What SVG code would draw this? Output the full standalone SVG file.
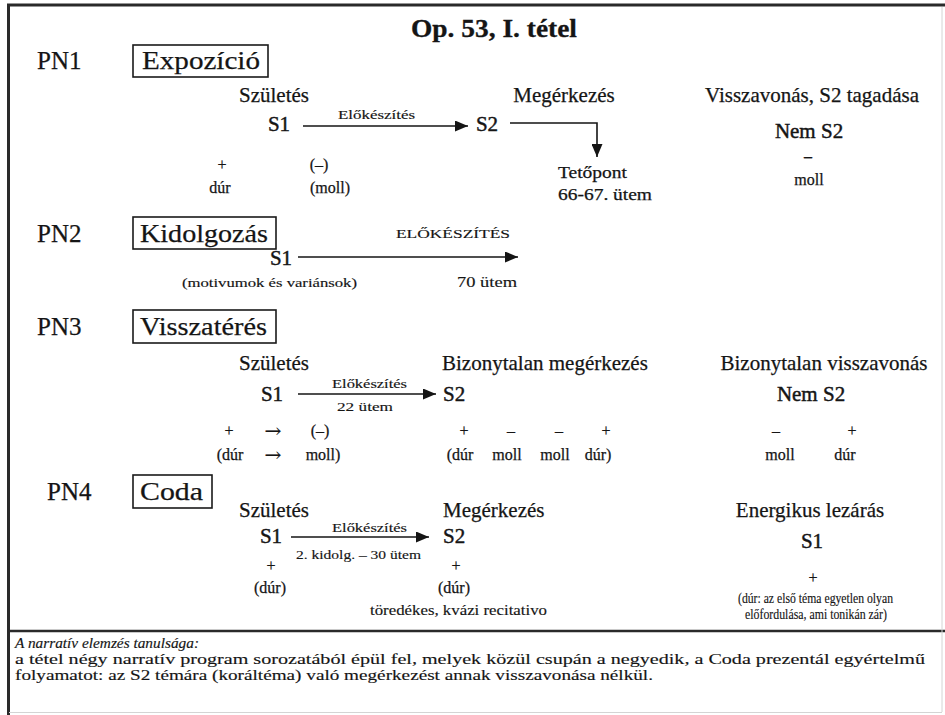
<svg xmlns="http://www.w3.org/2000/svg" width="945" height="715" viewBox="0 0 945 715" font-family="'Liberation Serif', 'DejaVu Serif', serif">
<defs>
<style>
text{font-family:"Liberation Serif","DejaVu Serif",serif;fill:#151515;stroke:#151515;stroke-width:0.25}
.ti{font-size:25px;font-weight:bold;stroke-width:0.3}
.pn{font-size:25px}
.bx{font-size:26px}
.hd{font-size:21px}
.s{font-size:21px;stroke-width:0.45}
.sm{font-size:13px;stroke-width:0.15}
.md{font-size:16px}
.ar{font-size:18px;font-family:"DejaVu Serif","Liberation Serif",serif;stroke-width:0.2}
.ft{font-size:15px;stroke-width:0.15}
.box{fill:none;stroke:#1a1a1a;stroke-width:1.6}
.ln{fill:none;stroke:#151515;stroke-width:1.6}
.fr{fill:none;stroke:#2a2a2a}
</style>
<marker id="ah" markerUnits="userSpaceOnUse" markerWidth="14" markerHeight="11" refX="13" refY="5.5" orient="auto">
<path d="M0,0 L13,5.5 L0,11 z" fill="#151515"/>
</marker>
</defs>
<rect width="945" height="715" fill="#fff"/>
<g id="frame">
<path class="fr" d="M7,5 H945" stroke-width="3.2"/>
<path class="fr" d="M8.5,4 V715" stroke-width="3"/>
<path class="fr" d="M8,631 H945" stroke-width="2.6"/>
<path d="M942,7 V712 M9,712.5 H942" stroke="#d4d4d4" stroke-width="1"/>
</g>
<g id="title"><text class="ti" x="411" y="37" textLength="166" lengthAdjust="spacingAndGlyphs">Op. 53, I. tétel</text></g>

<!-- PN1 -->
<g id="pn1-label"><text class="pn" x="37" y="69">PN1</text></g>
<g id="pn1-box"><rect class="box" x="133" y="45" width="135" height="32"/><text class="bx" x="142" y="69" textLength="118" lengthAdjust="spacingAndGlyphs">Expozíció</text></g>
<g id="pn1-s1">
<text class="hd" x="274" y="102" text-anchor="middle">Születés</text>
<text class="s" x="279" y="131" text-anchor="middle">S1</text>
<text class="md" x="222" y="170" text-anchor="middle">+</text>
<text class="md" x="220" y="193" text-anchor="middle">dúr</text>
<text class="md" x="319" y="170" text-anchor="middle">(–)</text>
<text class="md" x="330" y="193" text-anchor="middle">(moll)</text>
</g>
<g id="pn1-s2">
<text class="hd" x="564" y="102" text-anchor="middle">Megérkezés</text>
<text class="s" x="487" y="131" text-anchor="middle">S2</text>
</g>
<g id="pn1-tetopont">
<text class="md" x="558" y="178" textLength="69" lengthAdjust="spacingAndGlyphs">Tetőpont</text>
<text class="md" x="558" y="200" textLength="94" lengthAdjust="spacingAndGlyphs">66-67. ütem</text>
</g>
<g id="pn1-nems2">
<text class="hd" x="812" y="102" text-anchor="middle">Visszavonás, S2 tagadása</text>
<text class="s" x="809" y="138" text-anchor="middle" font-size="20">Nem S2</text>
<text class="md" x="808" y="162" text-anchor="middle" font-weight="bold">–</text>
<text class="md" x="809" y="185" text-anchor="middle">moll</text>
</g>

<!-- PN2 -->
<g id="pn2-label"><text class="pn" x="37" y="242">PN2</text></g>
<g id="pn2-box"><rect class="box" x="133" y="217" width="143" height="32"/><text class="bx" x="140" y="242" textLength="128" lengthAdjust="spacingAndGlyphs">Kidolgozás</text></g>
<g id="pn2-s1">
<text class="s" x="281" y="265" text-anchor="middle">S1</text>
<text class="sm" x="182" y="287" font-size="14" textLength="175" lengthAdjust="spacingAndGlyphs">(motivumok és variánsok)</text>
</g>
<g id="pn2-end">
<text class="sm" x="396" y="238" textLength="114" lengthAdjust="spacingAndGlyphs">ELŐKÉSZÍTÉS</text>
<text class="ft" x="457" y="287" textLength="60" lengthAdjust="spacingAndGlyphs">70 ütem</text>
</g>

<!-- PN3 -->
<g id="pn3-label"><text class="pn" x="37" y="335">PN3</text></g>
<g id="pn3-box"><rect class="box" x="133" y="310" width="143" height="33"/><text class="bx" x="140" y="335" textLength="127" lengthAdjust="spacingAndGlyphs">Visszatérés</text></g>
<g id="pn3-s1">
<text class="hd" x="274" y="370" text-anchor="middle">Születés</text>
<text class="s" x="272" y="401" text-anchor="middle">S1</text>
<text class="md" x="229" y="436" text-anchor="middle">+</text>
<text class="ar" x="273" y="437" text-anchor="middle" textLength="17" lengthAdjust="spacingAndGlyphs">→</text>
<text class="md" x="320" y="436" text-anchor="middle">(–)</text>
<text class="md" x="230" y="460" text-anchor="middle">(dúr</text>
<text class="ar" x="273" y="461" text-anchor="middle" textLength="17" lengthAdjust="spacingAndGlyphs">→</text>
<text class="md" x="323" y="460" text-anchor="middle">moll)</text>
</g>
<g id="pn3-s2">
<text class="hd" x="442" y="370">Bizonytalan megérkezés</text>
<text class="s" x="443" y="401">S2</text>
<text class="md" x="464" y="436" text-anchor="middle">+</text>
<text class="md" x="511" y="436" text-anchor="middle">–</text>
<text class="md" x="559" y="436" text-anchor="middle">–</text>
<text class="md" x="606" y="436" text-anchor="middle">+</text>
<text class="md" x="460" y="460" text-anchor="middle">(dúr</text>
<text class="md" x="507" y="460" text-anchor="middle">moll</text>
<text class="md" x="555" y="460" text-anchor="middle">moll</text>
<text class="md" x="598" y="460" text-anchor="middle">dúr)</text>
</g>
<g id="pn3-nems2">
<text class="hd" x="824" y="370" text-anchor="middle">Bizonytalan visszavonás</text>
<text class="s" x="811" y="401" text-anchor="middle" font-size="20">Nem S2</text>
<text class="md" x="776" y="436" text-anchor="middle">–</text>
<text class="md" x="852" y="436" text-anchor="middle">+</text>
<text class="md" x="780" y="460" text-anchor="middle">moll</text>
<text class="md" x="845" y="460" text-anchor="middle">dúr</text>
</g>

<!-- PN4 -->
<g id="pn4-label"><text class="pn" x="47" y="500">PN4</text></g>
<g id="pn4-box"><rect class="box" x="133" y="475" width="79" height="33"/><text class="bx" x="140" y="500" textLength="63" lengthAdjust="spacingAndGlyphs">Coda</text></g>
<g id="pn4-s1">
<text class="hd" x="274" y="517" text-anchor="middle">Születés</text>
<text class="s" x="271" y="543" text-anchor="middle">S1</text>
<text class="md" x="271" y="571" text-anchor="middle">+</text>
<text class="md" x="270" y="593" text-anchor="middle">(dúr)</text>
</g>
<g id="pn4-s2">
<text class="hd" x="443" y="517">Megérkezés</text>
<text class="s" x="443" y="543">S2</text>
<text class="md" x="456" y="571" text-anchor="middle">+</text>
<text class="md" x="454" y="593" text-anchor="middle">(dúr)</text>
<text class="ft" x="370" y="615" textLength="177" lengthAdjust="spacingAndGlyphs">töredékes, kvázi recitativo</text>
</g>
<g id="pn4-end">
<text class="hd" x="810" y="517" text-anchor="middle">Energikus lezárás</text>
<text class="s" x="812" y="548" text-anchor="middle">S1</text>
<text class="md" x="813" y="583" text-anchor="middle">+</text>
<text class="ft" x="738" y="603" font-size="14" textLength="155" lengthAdjust="spacingAndGlyphs">(dúr: az első téma egyetlen olyan</text>
<text class="ft" x="745" y="619" font-size="14" textLength="142" lengthAdjust="spacingAndGlyphs">előfordulása, ami tonikán zár)</text>
</g>

<!-- connectors -->
<g id="connectors">
<path class="ln" d="M303,126 H468" marker-end="url(#ah)"/>
<path class="ln" d="M510,123 H597 V157" marker-end="url(#ah)"/>
<path class="ln" d="M298,257 H518" marker-end="url(#ah)"/>
<path class="ln" d="M298,394 H436" marker-end="url(#ah)"/>
<path class="ln" d="M291,537 H429" marker-end="url(#ah)"/>
</g>
<g id="connector-labels">
<text class="sm" x="338" y="119" textLength="77" lengthAdjust="spacingAndGlyphs">Előkészítés</text>
<text class="sm" x="332" y="388" textLength="75" lengthAdjust="spacingAndGlyphs">Előkészítés</text>
<text class="sm" x="337" y="411" textLength="56" lengthAdjust="spacingAndGlyphs">22 ütem</text>
<text class="sm" x="332" y="532" textLength="75" lengthAdjust="spacingAndGlyphs">Előkészítés</text>
<text class="sm" x="296" y="559" font-size="12" textLength="125" lengthAdjust="spacingAndGlyphs">2. kidolg. – 30 ütem</text>
</g>

<!-- lesson box -->
<g id="lesson">
<text class="ft" x="15" y="648" font-style="italic" textLength="184" lengthAdjust="spacingAndGlyphs">A narratív elemzés tanulsága:</text>
<text class="ft" x="15" y="664" textLength="910" lengthAdjust="spacingAndGlyphs">a tétel négy narratív program sorozatából épül fel, melyek közül csupán a negyedik, a Coda prezentál egyértelmű</text>
<text class="ft" x="15" y="680" textLength="638" lengthAdjust="spacingAndGlyphs">folyamatot: az S2 témára (koráltéma) való megérkezést annak visszavonása nélkül.</text>
</g>
</svg>
